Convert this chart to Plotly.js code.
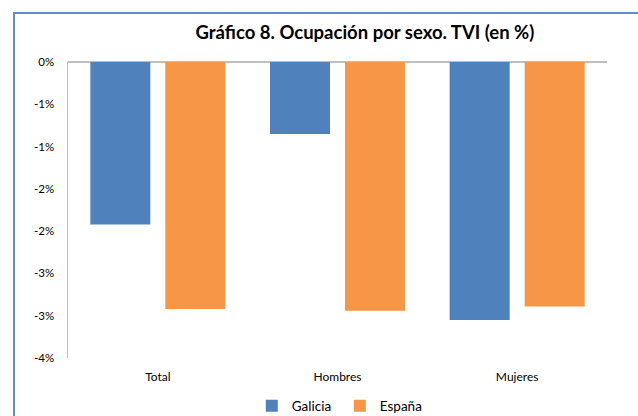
<!DOCTYPE html>
<html>
<head>
<meta charset="utf-8">
<script src="https://cdn.plot.ly/plotly-3.0.1.min.js"></script>
<style>
  html, body { margin: 0; padding: 0; background: #fff; }
  #chart { width: 638px; height: 416px; }
  #frame { position: absolute; left: 13px; top: 12px; width: 640px; height: 420px;
           border: 2px solid #5B8FD0; pointer-events: none; box-sizing: border-box; }
</style>
</head>
<body>
<div id="chart"></div>
<div id="frame"></div>
<script>
const categories = ["Total", "Hombres", "Mujeres"];
const galicia = [-1.92, -0.85, -3.05];
const espana = [-2.92, -2.94, -2.89];
const yTickVals = [0, -0.5, -1, -1.5, -2, -2.5, -3, -3.5];
const yTickText = ["0%", "-1%", "-1%", "-2%", "-2%", "-3%", "-3%", "-4%"];

const font = "Lato, 'Open Sans', sans-serif";

const traces = [
  { type: "bar", name: "Galicia", x: categories, y: galicia,
    marker: { color: "#4F81BD", line: { width: 0 } }, hoverinfo: "skip" },
  { type: "bar", name: "España", x: categories, y: espana,
    marker: { color: "#F79646", line: { width: 0 } }, hoverinfo: "skip" }
];

const layout = {
  width: 638, height: 416,
  margin: { l: 68, r: 31, t: 62, b: 58, autoexpand: false },
  paper_bgcolor: "#fff", plot_bgcolor: "#fff",
  font: { family: font, size: 12, color: "#000" },
  title: { text: "<b>Gráfico 8. Ocupación por sexo. TVI (en %)</b>",
           font: { family: font, size: 18.5, color: "#000" },
           x: 0.572, xanchor: "center", y: 0.921, yanchor: "middle" },
  barmode: "group", bargap: 0.165, bargroupgap: 0.2,
  showlegend: true,
  legend: { orientation: "h", x: 0.341, xanchor: "left",
            yref: "container", y: 0.024, yanchor: "middle",
            itemwidth: 30, entrywidth: 43, entrywidthmode: "pixels",
            font: { family: font, size: 13.5, color: "#000" } },
  xaxis: { type: "category", showline: false, showgrid: false, zeroline: false,
           ticks: "outside", ticklen: 8, tickcolor: "rgba(0,0,0,0)",
           tickfont: { family: font, size: 12 }, fixedrange: true },
  yaxis: { range: [-3.5, 0], tickmode: "array", tickvals: yTickVals, ticktext: yTickText,
           showgrid: false, zeroline: true, zerolinecolor: "#BFBFBF", zerolinewidth: 1.5,
           showline: true, linecolor: "#BFBFBF", linewidth: 1.5,
           ticks: "outside", ticklen: 10, tickcolor: "rgba(0,0,0,0)",
           tickfont: { family: font, size: 11.5 }, fixedrange: true }
};

Plotly.newPlot("chart", traces, layout, { displayModeBar: false, staticPlot: true });
</script>
</body>
</html>
